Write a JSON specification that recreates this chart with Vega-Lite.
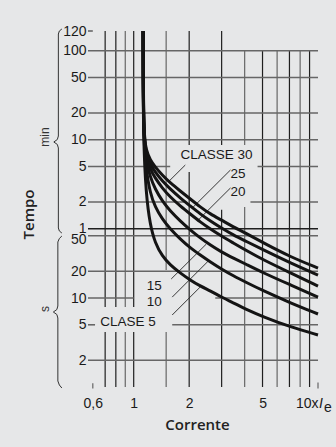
{
  "$schema": "https://vega.github.io/schema/vega-lite/v6.json",
  "width": 230,
  "height": 356,
  "autosize": "none",
  "padding": {"left": 88, "top": 31, "right": 18, "bottom": 60},
  "background": "#e6e7e8",
  "config": {"view": {"stroke": null}, "font": "Liberation Sans"},
  "layer": [
    {
      "data": {"values": [
        {"x": 0.7, "y": 10000, "y2": 7.92, "k": "dark"}, {"x": 0.7, "y": 4.15, "y2": 1, "k": "dark"},
        {"x": 0.8, "y": 10000, "y2": 7.92, "k": "dark"}, {"x": 0.8, "y": 4.15, "y2": 1, "k": "dark"},
        {"x": 0.9, "y": 10000, "y2": 7.92, "k": "gray"}, {"x": 0.9, "y": 4.15, "y2": 1, "k": "gray"},
        {"x": 1, "y": 10000, "y2": 7.92, "k": "dark"}, {"x": 1, "y": 4.15, "y2": 1, "k": "dark"},
        {"x": 1.5, "y": 10000, "y2": 20.6, "k": "gray"}, {"x": 1.5, "y": 4.15, "y2": 1, "k": "gray"},
        {"x": 2, "y": 10000, "y2": 524, "k": "dark"}, {"x": 2, "y": 260, "y2": 1, "k": "dark"},
        {"x": 3, "y": 10000, "y2": 524, "k": "dark"}, {"x": 3, "y": 97.9, "y2": 1, "k": "dark"},
        {"x": 4, "y": 6000, "y2": 524, "k": "gray"}, {"x": 4, "y": 105, "y2": 1, "k": "gray"},
        {"x": 5, "y": 6000, "y2": 1, "k": "dark"},
        {"x": 6, "y": 6000, "y2": 1, "k": "gray"},
        {"x": 7, "y": 6000, "y2": 1, "k": "dark"},
        {"x": 8, "y": 6000, "y2": 1, "k": "gray"},
        {"x": 9, "y": 6000, "y2": 1, "k": "dark"},
        {"x": 0.6, "y": 1.1, "y2": 0.96, "k": "gray"},
        {"x": 10, "y": 1.12, "y2": 0.96, "k": "gray"}
      ]},
      "mark": {"type": "rule", "strokeWidth": 1.2},
      "encoding": {
        "x": {"field": "x", "type": "quantitative",
          "scale": {"type": "log", "domain": [0.565, 10], "nice": false},
          "axis": {"values": [0.6, 1, 2, 5, 10],
            "labelExpr": "datum.value < 0.9 ? '0,6' : datum.value > 9 ? '10x' : format(datum.value, 'd')",
            "ticks": false, "domain": false, "grid": false, "labelFlush": false,
            "labelPadding": 9, "labelFont": "Liberation Sans", "labelFontSize": 14, "labelColor": "#1a1a1a",
            "labelAlign": {"condition": {"test": "datum.value > 9", "value": "right"}, "value": "center"},
            "title": "Corrente", "titleFont": "Open Sans", "titleFontSize": 15, "titleFontWeight": 600,
            "titleColor": "#222222", "titlePadding": 7, "titleX": 109}},
        "y": {"field": "y", "type": "quantitative",
          "scale": {"type": "log", "domain": [1, 10000], "nice": false},
          "axis": {"values": [2, 5, 10, 20, 50, 60, 120, 300, 600, 1200, 3000, 6000, 10000],
            "labelExpr": "datum.value < 55 ? format(datum.value, 'd') : datum.value > 9000 ? '120' : format(datum.value / 60, 'd')",
            "ticks": false, "domain": false, "grid": false, "labelOverlap": false, "labelFlush": false,
            "labelPadding": 2, "labelFont": "Liberation Sans", "labelFontSize": 14, "labelColor": "#1a1a1a",
            "labelBaseline": "middle",
            "labelOffset": {"condition": {"test": "datum.value == 50", "value": 4}, "value": 0},
            "title": "Tempo", "titleFont": "Open Sans", "titleFontSize": 15, "titleFontWeight": 600,
            "titleColor": "#222222", "titleX": -60, "titleY": 183, "titleAngle": 270,
            "titleAlign": "center", "titleBaseline": "middle"}},
        "y2": {"field": "y2"},
        "color": {"field": "k", "type": "nominal",
          "scale": {"domain": ["dark", "gray"], "range": ["#1f1f1f", "#666666"]}, "legend": null}
      }
    },
    {
      "data": {"values": [
        {"y": 10000, "x": 0.565, "x2": 0.6, "k": "gray"},
        {"y": 6000, "x": 0.565, "x2": 10, "k": "gray"},
        {"y": 3000, "x": 0.565, "x2": 10, "k": "gray"},
        {"y": 1200, "x": 0.565, "x2": 10, "k": "gray"},
        {"y": 600, "x": 0.565, "x2": 10, "k": "gray"},
        {"y": 300, "x": 0.565, "x2": 1.578, "k": "gray"}, {"y": 300, "x": 4.7, "x2": 10, "k": "gray"},
        {"y": 120, "x": 0.565, "x2": 1.9, "k": "gray"}, {"y": 120, "x": 4.3, "x2": 10, "k": "gray"},
        {"y": 60, "x": 0.565, "x2": 10, "k": "dark"},
        {"y": 50, "x": 0.565, "x2": 10, "k": "gray"},
        {"y": 20, "x": 0.565, "x2": 10, "k": "gray"},
        {"y": 10, "x": 0.565, "x2": 1.0, "k": "gray"}, {"y": 10, "x": 2.77, "x2": 10, "k": "gray"},
        {"y": 5, "x": 0.565, "x2": 0.617, "k": "gray"}, {"y": 5, "x": 1.618, "x2": 10, "k": "gray"},
        {"y": 2, "x": 0.565, "x2": 10, "k": "gray"}
      ]},
      "mark": {"type": "rule", "strokeWidth": 1.6},
      "encoding": {
        "x": {"field": "x", "type": "quantitative"},
        "x2": {"field": "x2"},
        "y": {"field": "y", "type": "quantitative"},
        "color": {"field": "k", "type": "nominal", "legend": null}
      }
    },
    {
      "data": {"values": [
        {"x": 1.905, "y": 312, "x2": 1.539, "y2": 201},
        {"x": 3.35, "y": 274.3, "x2": 2.079, "y2": 102.6},
        {"x": 3.35, "y": 172.2, "x2": 2.228, "y2": 74.3},
        {"x": 1.598, "y": 16.35, "x2": 2.478, "y2": 40.4},
        {"x": 1.618, "y": 10.23, "x2": 2.557, "y2": 26.4},
        {"x": 1.618, "y": 6.44, "x2": 2.313, "y2": 13.5}
      ]},
      "mark": {"type": "rule", "strokeWidth": 0.9, "color": "#222222"},
      "encoding": {
        "x": {"field": "x", "type": "quantitative"},
        "x2": {"field": "x2"},
        "y": {"field": "y", "type": "quantitative"},
        "y2": {"field": "y2"}
      }
    },
    {
      "data": {"values": [
        {"c": "30", "x": 1.127, "y": 10000}, {"c": "30", "x": 1.13, "y": 678.6}, {"c": "30", "x": 1.168, "y": 460}, {"c": "30", "x": 1.228, "y": 355}, {"c": "30", "x": 1.307, "y": 296.4}, {"c": "30", "x": 1.428, "y": 241}, {"c": "30", "x": 1.578, "y": 196}, {"c": "30", "x": 1.789, "y": 159.3}, {"c": "30", "x": 2.028, "y": 129.5}, {"c": "30", "x": 2.299, "y": 105.3}, {"c": "30", "x": 2.606, "y": 87.8}, {"c": "30", "x": 2.991, "y": 75.2}, {"c": "30", "x": 3.476, "y": 62.8}, {"c": "30", "x": 4.041, "y": 53.8}, {"c": "30", "x": 5.064, "y": 41.5}, {"c": "30", "x": 7.101, "y": 28.9}, {"c": "30", "x": 10, "y": 21.7},
        {"c": "25", "x": 1.126, "y": 10000}, {"c": "25", "x": 1.129, "y": 661}, {"c": "25", "x": 1.168, "y": 437}, {"c": "25", "x": 1.228, "y": 320}, {"c": "25", "x": 1.307, "y": 260.4}, {"c": "25", "x": 1.428, "y": 206.4}, {"c": "25", "x": 1.578, "y": 167.8}, {"c": "25", "x": 1.789, "y": 132.9}, {"c": "25", "x": 2.028, "y": 108.1}, {"c": "25", "x": 2.299, "y": 87.8}, {"c": "25", "x": 2.606, "y": 73.3}, {"c": "25", "x": 2.991, "y": 61.2}, {"c": "25", "x": 3.476, "y": 51.0}, {"c": "25", "x": 4.041, "y": 43.7}, {"c": "25", "x": 5.064, "y": 34.6}, {"c": "25", "x": 7.101, "y": 24.7}, {"c": "25", "x": 10, "y": 18.1},
        {"c": "20", "x": 1.125, "y": 10000}, {"c": "20", "x": 1.129, "y": 644}, {"c": "20", "x": 1.168, "y": 404}, {"c": "20", "x": 1.228, "y": 281.4}, {"c": "20", "x": 1.307, "y": 223}, {"c": "20", "x": 1.428, "y": 172.2}, {"c": "20", "x": 1.578, "y": 136.4}, {"c": "20", "x": 1.789, "y": 108.1}, {"c": "20", "x": 2.028, "y": 87.8}, {"c": "20", "x": 2.299, "y": 71.4}, {"c": "20", "x": 2.606, "y": 59.6}, {"c": "20", "x": 2.991, "y": 49.7}, {"c": "20", "x": 3.476, "y": 41.5}, {"c": "20", "x": 4.041, "y": 34.6}, {"c": "20", "x": 5.064, "y": 26.7}, {"c": "20", "x": 7.101, "y": 19.1}, {"c": "20", "x": 10, "y": 13.6},
        {"c": "15", "x": 1.125, "y": 10000}, {"c": "15", "x": 1.128, "y": 628}, {"c": "15", "x": 1.168, "y": 355}, {"c": "15", "x": 1.228, "y": 228.8}, {"c": "15", "x": 1.307, "y": 167.8}, {"c": "15", "x": 1.428, "y": 123}, {"c": "15", "x": 1.578, "y": 94.95}, {"c": "15", "x": 1.789, "y": 73.3}, {"c": "15", "x": 2.028, "y": 58.1}, {"c": "15", "x": 2.299, "y": 47.2}, {"c": "15", "x": 2.606, "y": 39.4}, {"c": "15", "x": 2.991, "y": 32.9}, {"c": "15", "x": 3.476, "y": 28.1}, {"c": "15", "x": 4.041, "y": 24.1}, {"c": "15", "x": 5.064, "y": 19.1}, {"c": "15", "x": 7.101, "y": 14.0}, {"c": "15", "x": 10, "y": 10.26},
        {"c": "10", "x": 1.124, "y": 10000}, {"c": "10", "x": 1.128, "y": 611.6}, {"c": "10", "x": 1.168, "y": 274.3}, {"c": "10", "x": 1.228, "y": 151.3}, {"c": "10", "x": 1.307, "y": 105.3}, {"c": "10", "x": 1.428, "y": 77.2}, {"c": "10", "x": 1.578, "y": 59.6}, {"c": "10", "x": 1.789, "y": 46.0}, {"c": "10", "x": 2.028, "y": 36.5}, {"c": "10", "x": 2.299, "y": 30.4}, {"c": "10", "x": 2.606, "y": 25.4}, {"c": "10", "x": 2.991, "y": 21.2}, {"c": "10", "x": 3.476, "y": 17.7}, {"c": "10", "x": 4.041, "y": 15.1}, {"c": "10", "x": 5.064, "y": 12.0}, {"c": "10", "x": 7.101, "y": 8.79}, {"c": "10", "x": 10, "y": 6.61},
        {"c": "5", "x": 1.123, "y": 10000}, {"c": "5", "x": 1.127, "y": 596}, {"c": "5", "x": 1.168, "y": 143.7}, {"c": "5", "x": 1.228, "y": 66.1}, {"c": "5", "x": 1.307, "y": 41.5}, {"c": "5", "x": 1.428, "y": 29.6}, {"c": "5", "x": 1.578, "y": 23.5}, {"c": "5", "x": 1.789, "y": 19.1}, {"c": "5", "x": 2.028, "y": 15.9}, {"c": "5", "x": 2.299, "y": 13.6}, {"c": "5", "x": 2.606, "y": 12.0}, {"c": "5", "x": 2.991, "y": 10.26}, {"c": "5", "x": 3.476, "y": 8.79}, {"c": "5", "x": 4.041, "y": 7.52}, {"c": "5", "x": 5.064, "y": 6.12}, {"c": "5", "x": 7.101, "y": 4.72}, {"c": "5", "x": 10, "y": 3.84}
      ]},
      "mark": {"type": "line", "strokeWidth": 3, "color": "#141414", "interpolate": "basis"},
      "encoding": {
        "x": {"field": "x", "type": "quantitative"},
        "y": {"field": "y", "type": "quantitative"},
        "detail": {"field": "c", "type": "nominal"}
      }
    },
    {
      "data": {"values": [
        {"g": "min", "i": 0, "x": 0.4076, "y": 10532}, {"g": "min", "i": 1, "x": 0.395, "y": 10000}, {"g": "min", "i": 2, "x": 0.3902, "y": 9250}, {"g": "min", "i": 3, "x": 0.3902, "y": 661}, {"g": "min", "i": 4, "x": 0.3852, "y": 604}, {"g": "min", "i": 5, "x": 0.3687, "y": 566}, {"g": "min", "i": 6, "x": 0.3852, "y": 531}, {"g": "min", "i": 7, "x": 0.3902, "y": 485}, {"g": "min", "i": 8, "x": 0.3902, "y": 61.2}, {"g": "min", "i": 9, "x": 0.395, "y": 56.6}, {"g": "min", "i": 10, "x": 0.4076, "y": 53.7},
        {"g": "s", "i": 0, "x": 0.4076, "y": 49.7}, {"g": "s", "i": 1, "x": 0.395, "y": 46.6}, {"g": "s", "i": 2, "x": 0.3877, "y": 42.6}, {"g": "s", "i": 3, "x": 0.3877, "y": 8.13}, {"g": "s", "i": 4, "x": 0.3828, "y": 7.42}, {"g": "s", "i": 5, "x": 0.3664, "y": 6.96}, {"g": "s", "i": 6, "x": 0.3828, "y": 6.53}, {"g": "s", "i": 7, "x": 0.3877, "y": 5.96}, {"g": "s", "i": 8, "x": 0.3877, "y": 1.168}, {"g": "s", "i": 9, "x": 0.395, "y": 1.053}, {"g": "s", "i": 10, "x": 0.4076, "y": 0.974}
      ]},
      "mark": {"type": "line", "strokeWidth": 1, "color": "#333333"},
      "encoding": {
        "x": {"field": "x", "type": "quantitative"},
        "y": {"field": "y", "type": "quantitative"},
        "detail": {"field": "g", "type": "nominal"},
        "order": {"field": "i", "type": "quantitative"}
      }
    },
    {
      "data": {"values": [
        {"x": 2.81, "y": 404, "t": "CLASSE 30"},
        {"x": 3.68, "y": 247, "t": "25"},
        {"x": 3.68, "y": 157, "t": "20"},
        {"x": 1.291, "y": 13.8, "t": "15"},
        {"x": 1.291, "y": 9.02, "t": "10"},
        {"x": 0.932, "y": 5.37, "t": "CLASE 5"}
      ]},
      "mark": {"type": "text", "fontSize": 13.5, "font": "Liberation Sans", "color": "#1a1a1a", "align": "center", "baseline": "middle"},
      "encoding": {
        "x": {"field": "x", "type": "quantitative"},
        "y": {"field": "y", "type": "quantitative"},
        "text": {"field": "t"}
      }
    },
    {
      "data": {"values": [
        {"x": 0.3295, "y": 644, "t": "min"},
        {"x": 0.3295, "y": 7.52, "t": "s"}
      ]},
      "mark": {"type": "text", "fontSize": 12, "font": "Liberation Sans", "color": "#333333", "align": "center", "baseline": "middle", "angle": 270},
      "encoding": {
        "x": {"field": "x", "type": "quantitative"},
        "y": {"field": "y", "type": "quantitative"},
        "text": {"field": "t"}
      }
    },
    {
      "data": {"values": [{"x": 10, "y": 1, "t": "I"}]},
      "mark": {"type": "text", "fontSize": 14, "font": "Liberation Sans", "fontStyle": "italic", "color": "#1a1a1a", "align": "left", "baseline": "middle", "dx": 1, "dy": 17},
      "encoding": {
        "x": {"field": "x", "type": "quantitative"},
        "y": {"field": "y", "type": "quantitative"},
        "text": {"field": "t"}
      }
    },
    {
      "data": {"values": [{"x": 10, "y": 1, "t": "e"}]},
      "mark": {"type": "text", "fontSize": 14, "font": "Liberation Sans", "color": "#1a1a1a", "align": "left", "baseline": "middle", "dx": 6, "dy": 21},
      "encoding": {
        "x": {"field": "x", "type": "quantitative"},
        "y": {"field": "y", "type": "quantitative"},
        "text": {"field": "t"}
      }
    }
  ]
}
